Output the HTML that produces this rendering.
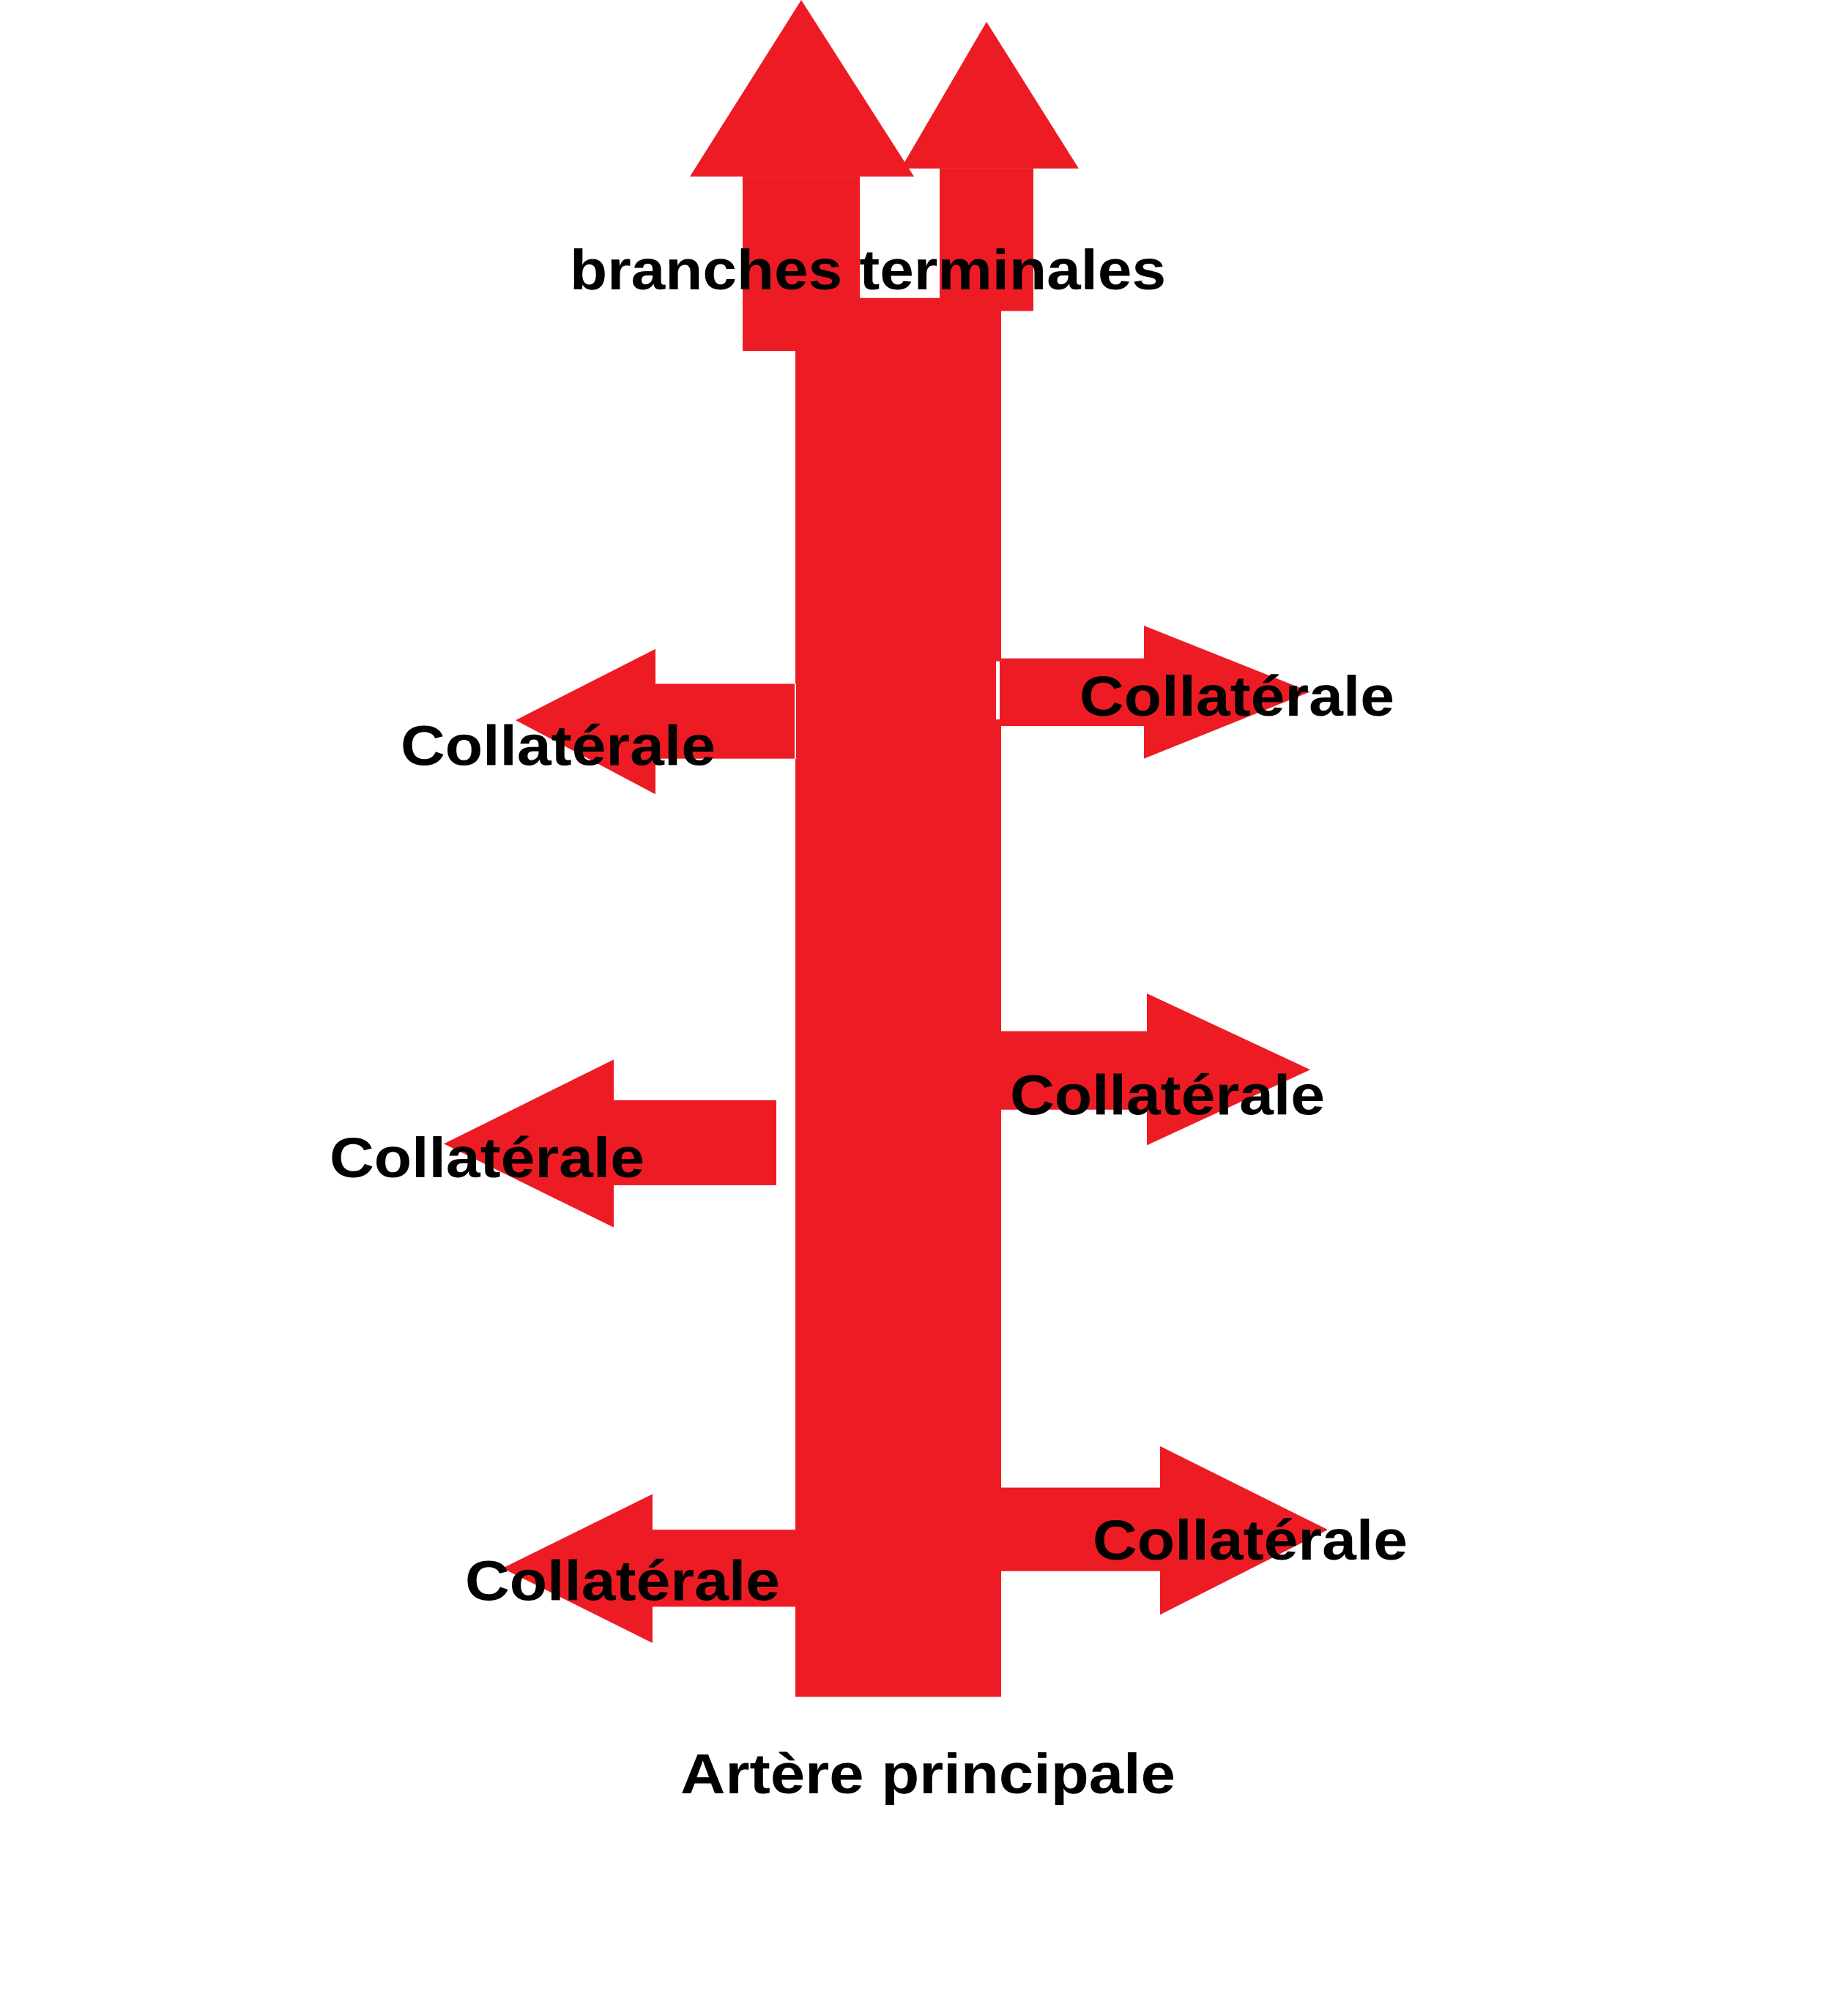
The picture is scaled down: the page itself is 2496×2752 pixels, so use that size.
<!DOCTYPE html>
<html><head><meta charset="utf-8"><style>html,body{margin:0;padding:0;background:#fff}svg{display:block}</style></head>
<body>
<svg width="2496" height="2752" viewBox="0 0 2496 2752" xmlns="http://www.w3.org/2000/svg">
<g transform="scale(1,0.992)">
<g fill="#ED1C24">
<g transform="translate(-8,0)">
<polygon points="950,243 1102,0 1256,243"/>
<rect x="1022" y="243" width="160" height="240"/>
<polygon points="1238,232 1355,30 1481,232"/>
<rect x="1291" y="232" width="128" height="196"/>
</g>
<rect x="1086" y="410" width="281" height="1925"/>
<!-- left collaterals -->
<rect x="895" y="941" width="190" height="103"/><polygon points="895,893 704,991 895,1093"/>
<rect x="838" y="1514" width="222" height="117"/><polygon points="838,1458 606,1574 838,1689"/>
<rect x="891" y="2105" width="199" height="106"/><polygon points="891,2056 686,2158 891,2261"/>
<!-- right collaterals -->
<rect x="1367" y="906" width="197" height="93"/><polygon points="1562,861 1789,952 1562,1044"/>
<rect x="1367" y="1419" width="201" height="108"/><polygon points="1566,1367 1789,1472 1566,1576"/>
<rect x="1367" y="2047" width="219" height="115"/><polygon points="1584,1990 1813,2105 1584,2222"/>
</g>
<rect x="1360" y="910" width="5" height="80" fill="#fff"/>
<rect x="1085" y="941" width="2" height="103" fill="#fff"/>
<g font-family="Liberation Sans, sans-serif" font-weight="bold" font-size="78" fill="#000">
<text x="778" y="398" textLength="814" lengthAdjust="spacingAndGlyphs">branches terminales</text>
<text x="547" y="1053" textLength="430" lengthAdjust="spacingAndGlyphs">Collatérale</text>
<text x="1474" y="985" textLength="430" lengthAdjust="spacingAndGlyphs">Collatérale</text>
<text x="1379" y="1534" textLength="430" lengthAdjust="spacingAndGlyphs">Collatérale</text>
<text x="450" y="1620" textLength="430" lengthAdjust="spacingAndGlyphs">Collatérale</text>
<text x="635" y="2202" textLength="430" lengthAdjust="spacingAndGlyphs">Collatérale</text>
<text x="1492" y="2146" textLength="430" lengthAdjust="spacingAndGlyphs">Collatérale</text>
<text x="929" y="2468" textLength="676" lengthAdjust="spacingAndGlyphs">Artère principale</text>
</g>
</g>
</svg>
</body></html>
